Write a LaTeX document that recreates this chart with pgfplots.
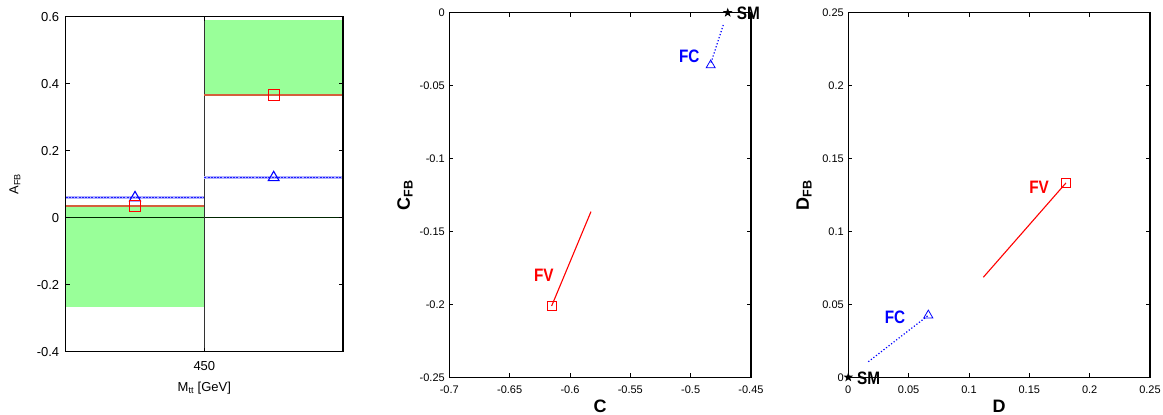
\documentclass[border=0pt]{standalone}
\usepackage{pgfplots}
\pgfplotsset{compat=1.18}
\usepackage{fontspec}
\setmainfont{Liberation Sans}
\usepackage{graphicx}
\usetikzlibrary{plotmarks}
\definecolor{bandgreen}{RGB}{153,255,153}
\definecolor{lred}{RGB}{212,95,60}
\definecolor{dblue}{RGB}{30,30,255}
\definecolor{lblue}{RGB}{175,175,255}
\pgfdeclareplotmark{fstar}{%
  \pgfpathmoveto{\pgfpointpolar{90}{\pgfplotmarksize}}%
  \pgfpathlineto{\pgfpointpolar{126}{0.4\pgfplotmarksize}}%
  \pgfpathlineto{\pgfpointpolar{162}{\pgfplotmarksize}}%
  \pgfpathlineto{\pgfpointpolar{198}{0.4\pgfplotmarksize}}%
  \pgfpathlineto{\pgfpointpolar{234}{\pgfplotmarksize}}%
  \pgfpathlineto{\pgfpointpolar{270}{0.4\pgfplotmarksize}}%
  \pgfpathlineto{\pgfpointpolar{306}{\pgfplotmarksize}}%
  \pgfpathlineto{\pgfpointpolar{342}{0.4\pgfplotmarksize}}%
  \pgfpathlineto{\pgfpointpolar{18}{\pgfplotmarksize}}%
  \pgfpathlineto{\pgfpointpolar{54}{0.4\pgfplotmarksize}}%
  \pgfpathclose\pgfusepathqfill}
\newcommand{\lab}[1]{\scalebox{0.85}[1]{\fontsize{18}{20}\selectfont\bfseries #1}}
\pgfplotsset{
  common/.style={scale only axis, clip=false, axis on top,
    anchor=south west,
    axis line style={line width=1.1pt},
    tick style={black, line width=0.8pt},
    major tick length=4pt, tick align=inside,
    /pgf/number format/assume math mode=true,
    /pgf/number format/fixed,
    /pgf/number format/precision=2,
  },
  small/.style={
    tick label style={font=\fontsize{11}{13}\selectfont},
    yticklabel style={xshift=-1pt},
    xticklabel style={yshift=-4.5pt},
    width=301.7pt, height=364.6pt,
    xlabel style={at={(axis description cs:0.5,-0.0787)}, anchor=center, font=\fontsize{18}{20}\selectfont\bfseries},
  },
}
\begin{document}
\begin{tikzpicture}
\useasboundingbox (0,0) rectangle (1163pt,415pt);
% ---------- left panel ----------
\begin{axis}[common, at={(65.7pt,63.3pt)}, width=277.3pt, height=335pt,
  xmin=0, xmax=2, ymin=-0.4, ymax=0.6,
  xtick={1}, xticklabels={450},
  ytick={-0.4,-0.2,0,0.2,0.4,0.6},
  tick label style={font=\fontsize{13}{15}\selectfont},
  yticklabel style={xshift=-3pt},
  xticklabel style={yshift=-6.5pt},
  xlabel={M\textsubscript{tt} [GeV]},
  xlabel style={at={(axis description cs:0.5,-0.108)}, anchor=center, font=\fontsize{13}{15}\selectfont},
]
\addplot[fill=bandgreen, draw=none] coordinates {(0,-0.267) (1,-0.267) (1,0.036) (0,0.036)} -- cycle;
\addplot[fill=bandgreen, draw=none] coordinates {(1,0.366) (2,0.366) (2,0.59) (1,0.59)} -- cycle;
\addplot[black!85!green, line width=1.1pt] coordinates {(0,0) (2,0)};
\addplot[black!80, line width=1pt] coordinates {(1,-0.4) (1,0.6)};
\addplot[color=lred, line width=1.8pt] coordinates {(0,0.036) (1,0.036)};
\addplot[color=lred, line width=1.8pt] coordinates {(1,0.366) (2,0.366)};
\addplot[color=lblue, line width=2.6pt] coordinates {(0,0.06) (1,0.06)};
\addplot[color=dblue, line width=1.2pt, dash pattern=on 2pt off 1.2pt] coordinates {(0,0.06) (1,0.06)};
\addplot[color=lblue, line width=2.2pt] coordinates {(1,0.12) (2,0.12)};
\addplot[color=dblue, line width=1.1pt, dash pattern=on 2pt off 1.2pt] coordinates {(1,0.12) (2,0.12)};
\addplot[only marks, mark=triangle, mark size=6.2pt, color=blue, mark options={line width=1.1pt, color=blue}] coordinates {(0.5,0.06) (1.5,0.12)};
\addplot[only marks, mark=square, mark size=5.5pt, color=red, mark options={line width=1.1pt, color=red}] coordinates {(0.5,0.035) (1.5,0.366)};
\node[rotate=90, font=\fontsize{13}{15}\selectfont] at (axis description cs:-0.183,0.5) {A\textsubscript{FB}};
\end{axis}
% ---------- middle panel ----------
\begin{axis}[common, small, at={(449.3pt,37.7pt)},
  xmin=-0.7, xmax=-0.45, ymin=-0.25, ymax=0,
  xtick={-0.7,-0.65,-0.6,-0.55,-0.5,-0.45},
  ytick={-0.25,-0.2,-0.15,-0.1,-0.05,0},
  xlabel={C},
]
\addplot[color=red, line width=1.1pt] coordinates {(-0.6152,-0.2011) (-0.5826,-0.1364)};
\addplot[color=blue, line width=1.2pt, dotted] coordinates {(-0.473,-0.0084) (-0.4834,-0.035)};
\addplot[only marks, mark=square, mark size=4.5pt, color=red, mark options={line width=0.8pt}] coordinates {(-0.6152,-0.2013)};
\addplot[only marks, mark=triangle, mark size=5.2pt, color=blue, mark options={line width=0.8pt}] coordinates {(-0.4834,-0.036)};
\addplot[only marks, mark=fstar, mark size=5pt, color=black] coordinates {(-0.4693,0)};
\node[red] at (axis cs:-0.6217,-0.1798) {\lab{FV}};
\node[blue] at (axis cs:-0.5012,-0.0299) {\lab{FC}};
\node[black] at (axis cs:-0.4522,-0.0007) {\lab{SM}};
\node[rotate=90, font=\fontsize{18}{20}\selectfont\bfseries] at (axis description cs:-0.147,0.5) {C\textsubscript{FB}};
\end{axis}
% ---------- right panel ----------
\begin{axis}[common, small, at={(848.3pt,37.7pt)},
  xmin=0, xmax=0.25, ymin=0, ymax=0.25,
  xtick={0,0.05,0.1,0.15,0.2,0.25},
  ytick={0,0.05,0.1,0.15,0.2,0.25},
  xlabel={D},
]
\addplot[color=red, line width=1.1pt] coordinates {(0.1119,0.0686) (0.1804,0.1333)};
\addplot[color=blue, line width=1.2pt, dotted] coordinates {(0.0166,0.0107) (0.0663,0.0425)};
\addplot[only marks, mark=square, mark size=4.5pt, color=red, mark options={line width=0.8pt}] coordinates {(0.1804,0.1333)};
\addplot[only marks, mark=triangle, mark size=5.2pt, color=blue, mark options={line width=0.8pt}] coordinates {(0.0663,0.0425)};
\addplot[only marks, mark=fstar, mark size=5pt, color=black] coordinates {(0,0)};
\node[red] at (axis cs:0.1581,0.1305) {\lab{FV}};
\node[blue] at (axis cs:0.0387,0.0408) {\lab{FC}};
\node[black] at (axis cs:0.0169,-0.0005) {\lab{SM}};
\node[rotate=90, font=\fontsize{18}{20}\selectfont\bfseries] at (axis description cs:-0.147,0.5) {D\textsubscript{FB}};
\end{axis}
\end{tikzpicture}
\end{document}
